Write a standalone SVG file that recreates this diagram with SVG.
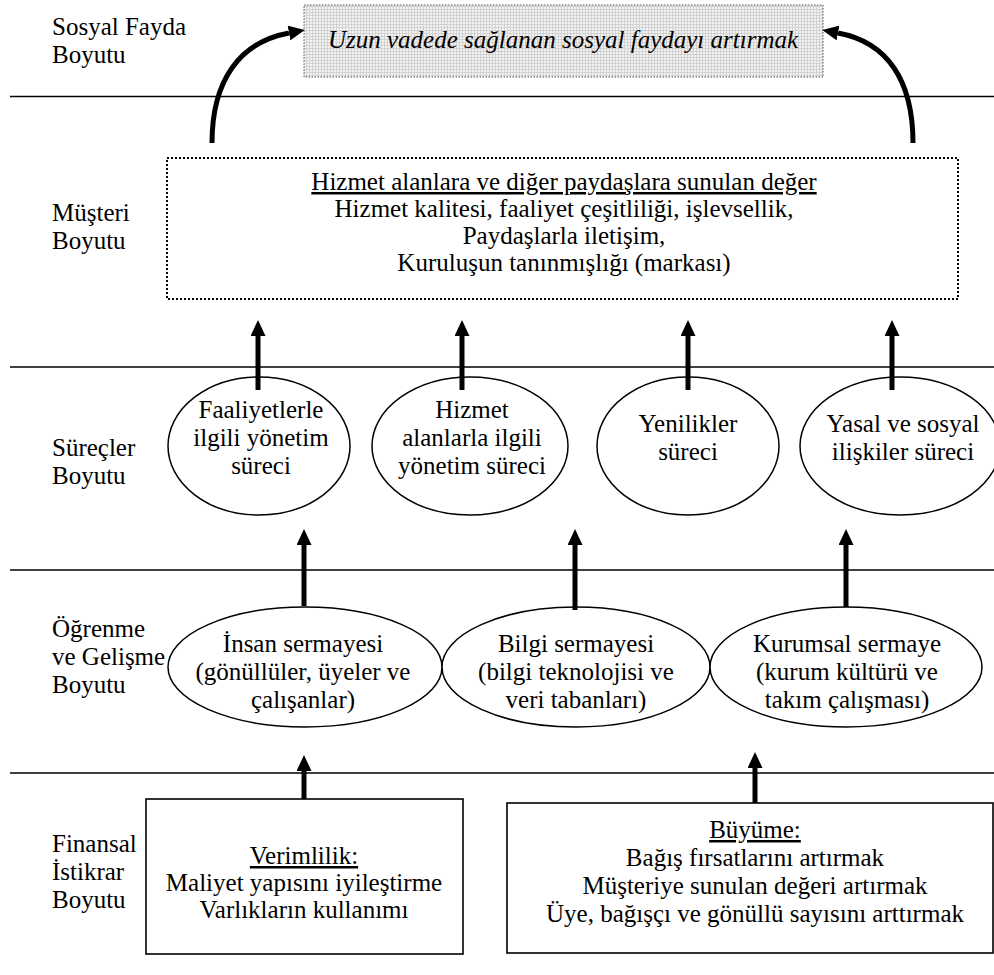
<svg xmlns="http://www.w3.org/2000/svg" width="994" height="975" viewBox="0 0 994 975" font-family="Liberation Serif, DejaVu Serif, serif">
<style>
text{font-family:'Liberation Serif','DejaVu Serif',serif;font-size:25px;fill:#000}
.c{text-anchor:middle}
.u{text-decoration:underline}
.it{font-style:italic}
.sep{stroke:#000;stroke-width:1.6;fill:none}
.ell{fill:#fff;stroke:#000;stroke-width:1.5}
.box{fill:#fff;stroke:#000;stroke-width:1.6}
.arr{stroke:#000;stroke-width:5;fill:none;marker-end:url(#ah)}
</style>
<defs>
<marker id="ah" viewBox="0 0 16 15" refX="0" refY="7.5" markerWidth="16" markerHeight="15" markerUnits="userSpaceOnUse" orient="auto">
<path d="M0,0 L16,7.5 L0,15 z" fill="#000"/>
</marker>
<pattern id="grid" width="3" height="3" patternUnits="userSpaceOnUse">
<rect width="3" height="3" fill="#f3f3f3"/>
<path d="M0,0.5 H3 M0.5,0 V3" stroke="#d2d2d2" stroke-width="1"/>
</pattern>
</defs>
<rect width="994" height="975" fill="#fff"/>

<g id="separators">
<line class="sep" x1="10" y1="96.5" x2="994" y2="96.5"/>
<line class="sep" x1="10" y1="367" x2="994" y2="367"/>
<line class="sep" x1="10" y1="570" x2="994" y2="570"/>
<line class="sep" x1="10" y1="773" x2="994" y2="773"/>
</g>

<g id="row-labels">
<text x="52" y="35">Sosyal Fayda</text>
<text x="52" y="63">Boyutu</text>
<text x="52" y="221">Müşteri</text>
<text x="52" y="249">Boyutu</text>
<text x="52" y="456">Süreçler</text>
<text x="52" y="484">Boyutu</text>
<text x="52" y="637">Öğrenme</text>
<text x="52" y="665">ve Gelişme</text>
<text x="52" y="693">Boyutu</text>
<text x="52" y="852">Finansal</text>
<text x="52" y="880">İstikrar</text>
<text x="52" y="908">Boyutu</text>
</g>

<g id="social-benefit">
<rect x="304" y="5" width="519" height="72" fill="url(#grid)" stroke="#555" stroke-width="1" stroke-dasharray="1.5 1.5"/>
<text class="c it" x="563" y="48">Uzun vadede sağlanan sosyal faydayı artırmak</text>
</g>

<g id="customer-value">
<rect x="167" y="158" width="791" height="141" fill="#fff" stroke="#000" stroke-width="2" stroke-dasharray="2 2"/>
<text class="c u" x="564" y="190">Hizmet alanlara ve diğer paydaşlara sunulan değer</text>
<text class="c" x="564" y="217">Hizmet kalitesi, faaliyet çeşitliliği, işlevsellik,</text>
<text class="c" x="564" y="244">Paydaşlarla iletişim,</text>
<text class="c" x="564" y="271">Kuruluşun tanınmışlığı (markası)</text>
</g>

<g id="process-activities">
<ellipse class="ell" cx="259" cy="446" rx="91" ry="69"/>
<text class="c" x="261" y="418">Faaliyetlerle</text>
<text class="c" x="261" y="446">ilgili yönetim</text>
<text class="c" x="261" y="474">süreci</text>
</g>
<g id="process-service">
<ellipse class="ell" cx="470" cy="446" rx="98" ry="69"/>
<text class="c" x="472" y="418">Hizmet</text>
<text class="c" x="472" y="446">alanlarla ilgili</text>
<text class="c" x="472" y="474">yönetim süreci</text>
</g>
<g id="process-innovation">
<ellipse class="ell" cx="688" cy="446" rx="91" ry="69"/>
<text class="c" x="688" y="432">Yenilikler</text>
<text class="c" x="688" y="460">süreci</text>
</g>
<g id="process-legal">
<ellipse class="ell" cx="900" cy="446" rx="100" ry="69"/>
<text class="c" x="903" y="432">Yasal ve sosyal</text>
<text class="c" x="903" y="460">ilişkiler süreci</text>
</g>

<g id="human-capital">
<ellipse class="ell" cx="305" cy="667" rx="137" ry="60"/>
<text class="c" x="303" y="652">İnsan sermayesi</text>
<text class="c" x="303" y="680">(gönüllüler, üyeler ve</text>
<text class="c" x="303" y="708">çalışanlar)</text>
</g>
<g id="information-capital">
<ellipse class="ell" cx="576" cy="667" rx="134" ry="60"/>
<text class="c" x="576" y="652">Bilgi sermayesi</text>
<text class="c" x="576" y="680">(bilgi teknolojisi ve</text>
<text class="c" x="576" y="708">veri tabanları)</text>
</g>
<g id="organization-capital">
<ellipse class="ell" cx="846" cy="667" rx="136" ry="60"/>
<text class="c" x="847" y="652">Kurumsal sermaye</text>
<text class="c" x="847" y="680">(kurum kültürü ve</text>
<text class="c" x="847" y="708">takım çalışması)</text>
</g>

<g id="efficiency">
<rect class="box" x="146" y="799" width="317" height="155"/>
<text class="c u" x="304" y="864">Verimlilik:</text>
<text class="c" x="304" y="891">Maliyet yapısını iyileştirme</text>
<text class="c" x="304" y="918">Varlıkların kullanımı</text>
</g>
<g id="growth">
<rect class="box" x="507" y="803" width="486" height="150"/>
<text class="c u" x="755" y="838">Büyüme:</text>
<text class="c" x="755" y="866">Bağış fırsatlarını artırmak</text>
<text class="c" x="755" y="894">Müşteriye sunulan değeri artırmak</text>
<text class="c" x="755" y="922">Üye, bağışçı ve gönüllü sayısını arttırmak</text>
</g>

<g id="connectors">
<path class="arr" d="M212,143 C212,80 240,42 289,33"/>
<path class="arr" d="M913,143 C913,80 887,42 838,33"/>
<line class="arr" x1="258" y1="390" x2="258" y2="336"/>
<line class="arr" x1="462" y1="390" x2="462" y2="336"/>
<line class="arr" x1="688" y1="390" x2="688" y2="336"/>
<line class="arr" x1="892" y1="390" x2="892" y2="336"/>
<line class="arr" x1="304" y1="606" x2="304" y2="545"/>
<line class="arr" x1="575" y1="610" x2="575" y2="545"/>
<line class="arr" x1="846" y1="607" x2="846" y2="545"/>
<line class="arr" x1="304" y1="799" x2="304" y2="771"/>
<line class="arr" x1="755" y1="803" x2="755" y2="768"/>
</g>
</svg>
